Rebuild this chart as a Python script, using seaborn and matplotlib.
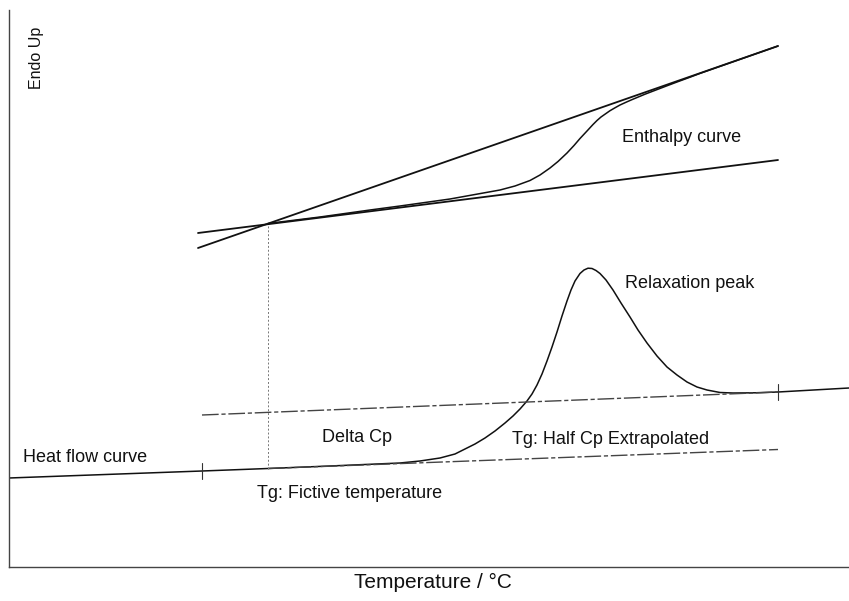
import matplotlib
matplotlib.use("Agg")
import matplotlib.pyplot as plt
import seaborn as sns
import pandas as pd

# ---- data (schematic DSC curves; temperature units arbitrary, signal upward = endo) ----
heat_T = [0, 193, 259, 321, 391, 411, 431, 446, 456, 466, 476, 486, 496, 504, 511, 518,
          523, 528, 533, 538, 543, 548, 553, 558, 562, 566, 571, 575, 579, 583, 587, 591,
          597, 604, 612, 621, 629, 638, 648, 658, 668, 678, 688, 698, 711, 724, 746, 769, 840]
heat_S = [89, 96, 98.5, 101, 104, 106, 109, 113, 118, 123, 129, 136, 144, 151, 158, 166,
          173, 182, 193, 206, 220, 235, 251, 266, 277, 286, 293.5, 297, 298.8, 298.5, 296.5, 293.5,
          287, 277, 264, 250, 237, 224, 211, 200, 192, 185, 180, 177, 174.5, 174, 174.2, 175, 179]

enth_T = [259, 311, 361, 391, 441, 491, 506, 521, 531, 541, 549, 558, 565, 571, 578, 584,
          588, 592, 597, 601, 606, 611, 618, 624, 636, 648, 659, 668, 681, 691, 769]
enth_S = [343.5, 350, 357, 361, 368, 377, 381, 386.5, 392, 399, 405.5, 414, 421.5, 428.5, 436, 442.5,
          446.5, 450, 453.5, 456.3, 459.2, 462, 465.2, 467.8, 472.8, 477.4, 481.6, 485, 489.8, 493.6, 521]

steep_T = [189, 769]
steep_S = [319, 521]
shallow_T = [189, 769]
shallow_S = [334, 407]

upper_base_T = [193, 769]
upper_base_S = [152, 175]
lower_base_T = [259, 769]
lower_base_S = [98.5, 117.5]

tick_T = [193, 769]
tick_S = [96, 175]

fictive_T = [259, 259]
fictive_S = [98.5, 343.5]

labels = ["Endo Up", "Enthalpy curve", "Relaxation peak", "Delta Cp",
          "Tg: Half Cp Extrapolated", "Tg: Fictive temperature", "Heat flow curve"]
label_T = [28, 613, 616, 313, 503, 248, 14]
label_S = [509, 430, 284, 130, 127, 74, 109]

xlabel = "Temperature / °C"

# ---- figure ----
sns.set_style("white")
plt.rcParams["font.family"] = ["Liberation Sans", "DejaVu Sans"]

fig = plt.figure(figsize=(8.49, 6.01), dpi=100)
ax = fig.add_axes([9 / 849, (601 - 567) / 601, 840 / 849, (567 - 10) / 601])
ax.set_xlim(0, 840)
ax.set_ylim(0, 557)

def line(x, y, **kw):
    df = pd.DataFrame({"x": x, "y": y})
    sns.lineplot(data=df, x="x", y="y", ax=ax, sort=False, estimator=None, **kw)

black = "#111111"
line(heat_T, heat_S, color=black, lw=1.1)
line(enth_T, enth_S, color=black, lw=1.1)
line(steep_T, steep_S, color=black, lw=1.3)
line(shallow_T, shallow_S, color=black, lw=1.3)
line(upper_base_T, upper_base_S, color="#444444", lw=1.0, linestyle=(0, (12, 2, 3, 2)))
line(lower_base_T, lower_base_S, color="#444444", lw=1.0, linestyle=(0, (12, 2, 3, 2)))
line(fictive_T, fictive_S, color="#777777", lw=0.7, linestyle=(0, (2, 2)))

for t, s in zip(tick_T, tick_S):
    line([t, t], [s - 8, s + 8], color="#333333", lw=0.8)

for txt, t, s in zip(labels, label_T, label_S):
    if txt == "Endo Up":
        ax.text(t, s, txt, rotation=90, ha="center", va="center", fontsize=11.5, color=black)
    else:
        ax.text(t, s, txt, ha="left", va="center", fontsize=13, color=black)

fig.text(433 / 849, 1 - 582 / 601, xlabel, ha="center", va="center", fontsize=15, color=black)

ax.set_xticks([])
ax.set_yticks([])
ax.set_xlabel("")
ax.set_ylabel("")
for side in ["top", "right"]:
    ax.spines[side].set_visible(False)
for side in ["left", "bottom"]:
    ax.spines[side].set_color("#444444")
    ax.spines[side].set_linewidth(1.0)

fig.savefig("out.png", dpi=100)
